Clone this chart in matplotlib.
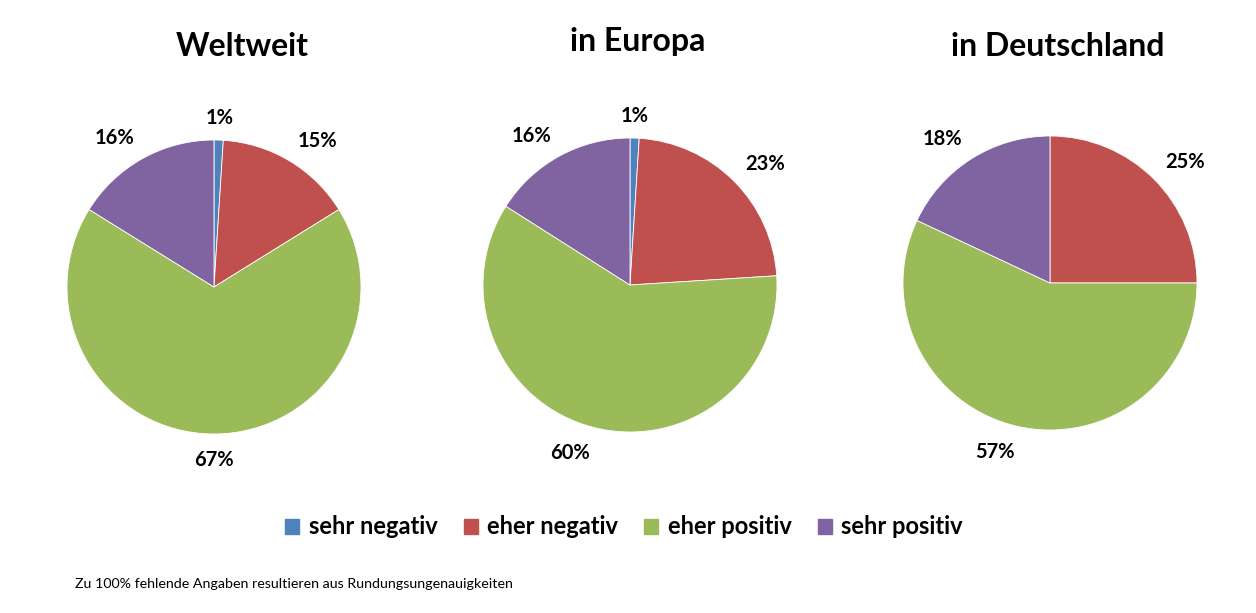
import matplotlib.pyplot as plt
from matplotlib.patches import Patch

plt.rcParams['font.family'] = ['Lato', 'DejaVu Sans']

titles = ["Weltweit", "in Europa", "in Deutschland"]
categories = ["sehr negativ", "eher negativ", "eher positiv", "sehr positiv"]
colors = ["#4F81BD", "#C0504D", "#9BBB59", "#8064A2"]

weltweit = [1, 15, 67, 16]
europa = [1, 23, 60, 16]
deutschland = [0, 25, 57, 18]
all_values = [weltweit, europa, deutschland]

W, H = 1256, 613
fig = plt.figure(figsize=(W / 100, H / 100), dpi=100)

# pie centres / radius in pixels
centres = [(214, 287), (630, 285), (1050, 283)]
radius = 147
title_y = [46, 41, 46]
title_x = [242, 638, 1058]

for i, values in enumerate(all_values):
    cx, cy = centres[i]
    ax = fig.add_axes([(cx - radius) / W, (H - cy - radius) / H,
                       2 * radius / W, 2 * radius / H])
    labels = [f"{v}%" if v > 0 else "" for v in values]
    wedges, texts = ax.pie(values, labels=labels, colors=colors,
                           startangle=90, counterclock=False,
                           labeldistance=1.11,
                           wedgeprops=dict(edgecolor="white", linewidth=0.6),
                           textprops=dict(fontsize=14.5, fontweight="bold"))
    # Excel-like "outside end" placement: anchor the label edge nearest the pie
    for t in texts:
        x, y = t.get_position()
        if x > 0.2:
            t.set_horizontalalignment("left")
        elif x < -0.2:
            t.set_horizontalalignment("right")
        else:
            t.set_horizontalalignment("center")
        t.set_verticalalignment("baseline" if y > 0 else "top")
    ax.set_xlim(-1, 1)
    ax.set_ylim(-1, 1)
    ax.set_aspect("equal")
    fig.text(title_x[i] / W, 1 - title_y[i] / H, titles[i],
             fontsize=23, fontweight="bold", ha="center", va="center")

handles = [Patch(facecolor=c, edgecolor=c) for c in colors]
fig.legend(handles, categories, loc="center", ncol=4,
           bbox_to_anchor=(624 / W, 1 - 527 / H), frameon=False,
           prop=dict(size=17, weight="bold"),
           handlelength=0.6, handleheight=0.6, handletextpad=0.4,
           columnspacing=1.1)

fig.text(75 / W, 1 - 584 / H,
         "Zu 100% fehlende Angaben resultieren aus Rundungsungenauigkeiten",
         fontsize=10.3, ha="left", va="center")

fig.savefig("out.png", dpi=100)
